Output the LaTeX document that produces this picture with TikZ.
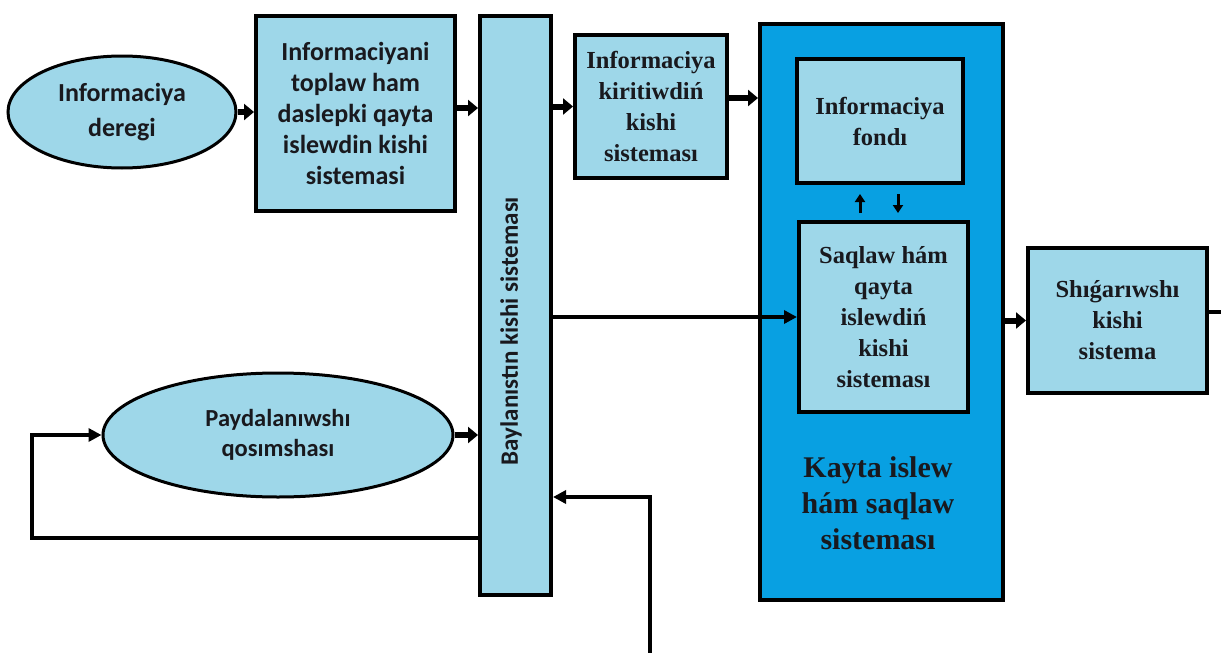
\documentclass[tikz,border=0pt]{standalone}
\usepackage{fontspec}
\newfontfamily\carl{Carlito}
\newfontfamily\tms{Liberation Serif}
\usetikzlibrary{arrows.meta,shapes.geometric,calc}
\definecolor{lb}{RGB}{158,215,233}
\definecolor{db}{RGB}{8,160,226}
\definecolor{ink}{RGB}{25,25,30}
\begin{document}
\begin{tikzpicture}[x=1pt,y=-1pt,
  box/.style={draw=black,line width=4pt,fill=lb,inner sep=0pt,align=center,text=ink},
  bigbox/.style={draw=black,line width=4pt,fill=db,inner sep=0pt},
  ell/.style={ellipse,draw=black,line width=3pt,fill=lb,inner sep=0pt,align=center,text=ink},
  sf/.style={font=\carl\bfseries\fontsize{26}{31}\selectfont},
  rm/.style={font=\tms\bfseries\fontsize{24.5}{31}\selectfont},
  fat/.style={line width=6pt,-{Triangle[length=10pt,width=16pt]}},
  thinarr/.style={line width=3.5pt,-{Triangle[length=13pt,width=13pt]}},
  plain/.style={line width=3.5pt},
  smallarr/.style={line width=3pt,-{Triangle[length=8pt,width=10pt]}}
]
\path[use as bounding box,fill=white] (0,0) rectangle (1221,653);

% big container
\node[bigbox,minimum width=243pt,minimum height=576pt] (big) at (881.5,312) {};
\node[font=\tms\bfseries\fontsize{30}{36}\selectfont,align=center,text=ink] (bigtxt) at (878,503)
  {Kayta islew\\hám saqlaw\\sisteması};

% nodes
\node[ell,minimum width=228pt,minimum height=112pt,font=\carl\bfseries\fontsize{26}{35}\selectfont] (src) at (122,112) {Informaciya\\deregi};
\node[box,sf,minimum width=199pt,minimum height=195pt] (col) at (355.5,113.5)
  {Informaciyani\\toplaw ham\\daslepki qayta\\islewdin kishi\\sistemasi};
\node[box,minimum width=71pt,minimum height=579pt] (bar) at (515.5,305.5) {};
\node[font=\carl\bfseries\fontsize{25}{30}\selectfont,text=ink,rotate=90] (bartxt) at (511,331) {Baylanıstın kishi sisteması};
\node[box,rm,minimum width=152pt,minimum height=143pt] (inp) at (651,106.5)
  {Informaciya\\kiritiwdiń\\kishi\\sisteması};
\node[box,rm,minimum width=166pt,minimum height=124pt] (fond) at (880,121)
  {Informaciya\\fondı};
\node[box,rm,minimum width=169pt,minimum height=190pt] (saq) at (883.5,317)
  {Saqlaw hám\\qayta\\islewdiń\\kishi\\sisteması};
\node[box,rm,minimum width=179pt,minimum height=145pt] (out) at (1117.5,320.5)
  {Shıǵarıwshı\\kishi\\sistema};
\node[ell,minimum width=350pt,minimum height=124pt,font=\carl\bfseries\fontsize{24.5}{30}\selectfont] (use) at (278,435)
  {Paydalanıwshı\\qosımshası};

% helper coordinates
\coordinate (outR) at (1221,312);
\coordinate (lp) at (32,538);
\coordinate (bt) at (650,653);
\coordinate (bk) at (650,497);
\coordinate (u1) at ($(saq.north)+(-23.5,-7)$);
\coordinate (u2) at ($(fond.south)+(-20,9)$);
\coordinate (d1) at ($(fond.south)+(18,9)$);
\coordinate (d2) at ($(saq.north)+(14.5,-7)$);

% connectors
\draw[fat] (src.east) -- (src.east -| col.west);
\draw[fat] ([yshift=5.5pt]col.east) -- ([yshift=5.5pt]col.east -| bar.west);
\draw[fat] (inp.west -| bar.east) -- (inp.west);
\draw[fat] ([yshift=8.5pt]inp.east) -- ([yshift=8.5pt]inp.east -| big.west);
\draw[fat] (out.west -| big.east) -- (out.west);
\draw[fat] (use.east) -- (use.east -| bar.west);
\draw[thinarr] (saq.west -| bar.east) -- (saq.west);
\draw[smallarr] (u1) -- (u2);
\draw[smallarr] (d1) -- (d2);
\draw[plain] (out.east |- outR) -- (outR);
\draw[thinarr] (bar.west |- lp) -- (lp) |- (use.west);
\draw[thinarr] (bt) -- (bk) -- (bk -| bar.east);
\end{tikzpicture}
\end{document}
